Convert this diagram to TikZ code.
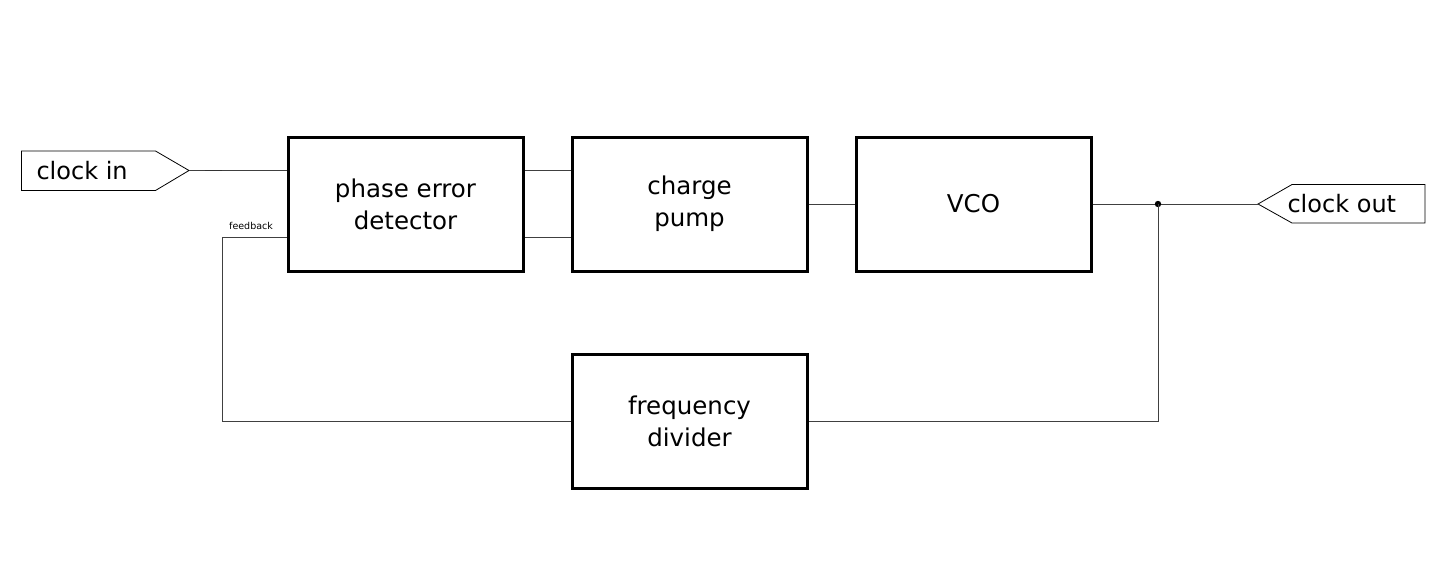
\documentclass[tikz,border=0pt]{standalone}
\usepackage{fontspec}
\setmainfont{DejaVu Sans}
\begin{document}
\begin{tikzpicture}[x=1pt,y=-1pt,
  blk/.style={draw,line width=3pt,minimum width=235pt,minimum height=134pt,inner sep=0pt,align=center,font=\fontsize{24.5}{32}\selectfont},
  wire/.style={draw,line width=0.8pt,black!75},
  lbl/.style={font=\fontsize{24}{26}\selectfont}]
\useasboundingbox (0,0) rectangle (1456,578);
\node[blk] (pd) at (405.5,204) {phase error\\detector};
\node[blk] (cp) at (689.5,204) {charge\\pump};
\node[blk] (vco) at (973.5,204) {VCO};
\node[blk] (fd) at (689.5,421.5) {frequency\\divider};
% clock in port
\coordinate (cin) at (189,170.5);
\draw[line width=0.8pt] (cin) -- (155.5,151) -- (21.5,151) -- (21.5,190.5) -- (155.5,190.5) -- cycle;
\node[lbl,anchor=west] (cinl) at (33,170.5) {clock in};
% clock out port
\coordinate (cout) at (1258,204);
\draw[line width=0.8pt] (cout) -- (1292,184.5) -- (1425,184.5) -- (1425,223) -- (1292,223) -- cycle;
\node[lbl,anchor=west] (coutl) at (1284,204) {clock out};
% wires
\draw[wire] (cin) -- (cin -| pd.west);
\draw[line width=1.6pt,black!80] (205,170.5) -- (222,170.5);
\draw[wire] ([yshift=33.5pt]pd.east) -- ([yshift=33.5pt]cp.west);
\draw[wire] ([yshift=-33.5pt]pd.east) -- ([yshift=-33.5pt]cp.west);
\draw[wire] (cp.east) -- (vco.west);
\coordinate (j) at (1158,204);
\draw[wire] (vco.east) -- (cout);
\fill (j) circle (3.2pt);
\draw[wire] (j) -- (1158,421.5) -- (fd.east);
\coordinate (fb) at (222,421.5);
\draw[wire] (fd.west) -- (fb) -- (222,237.5) -- ([yshift=-33.5pt]pd.west);
\node[font=\fontsize{9.5}{11}\selectfont,anchor=south west,inner sep=1pt] (fbl) at (228,231) {feedback};
\end{tikzpicture}
\end{document}
